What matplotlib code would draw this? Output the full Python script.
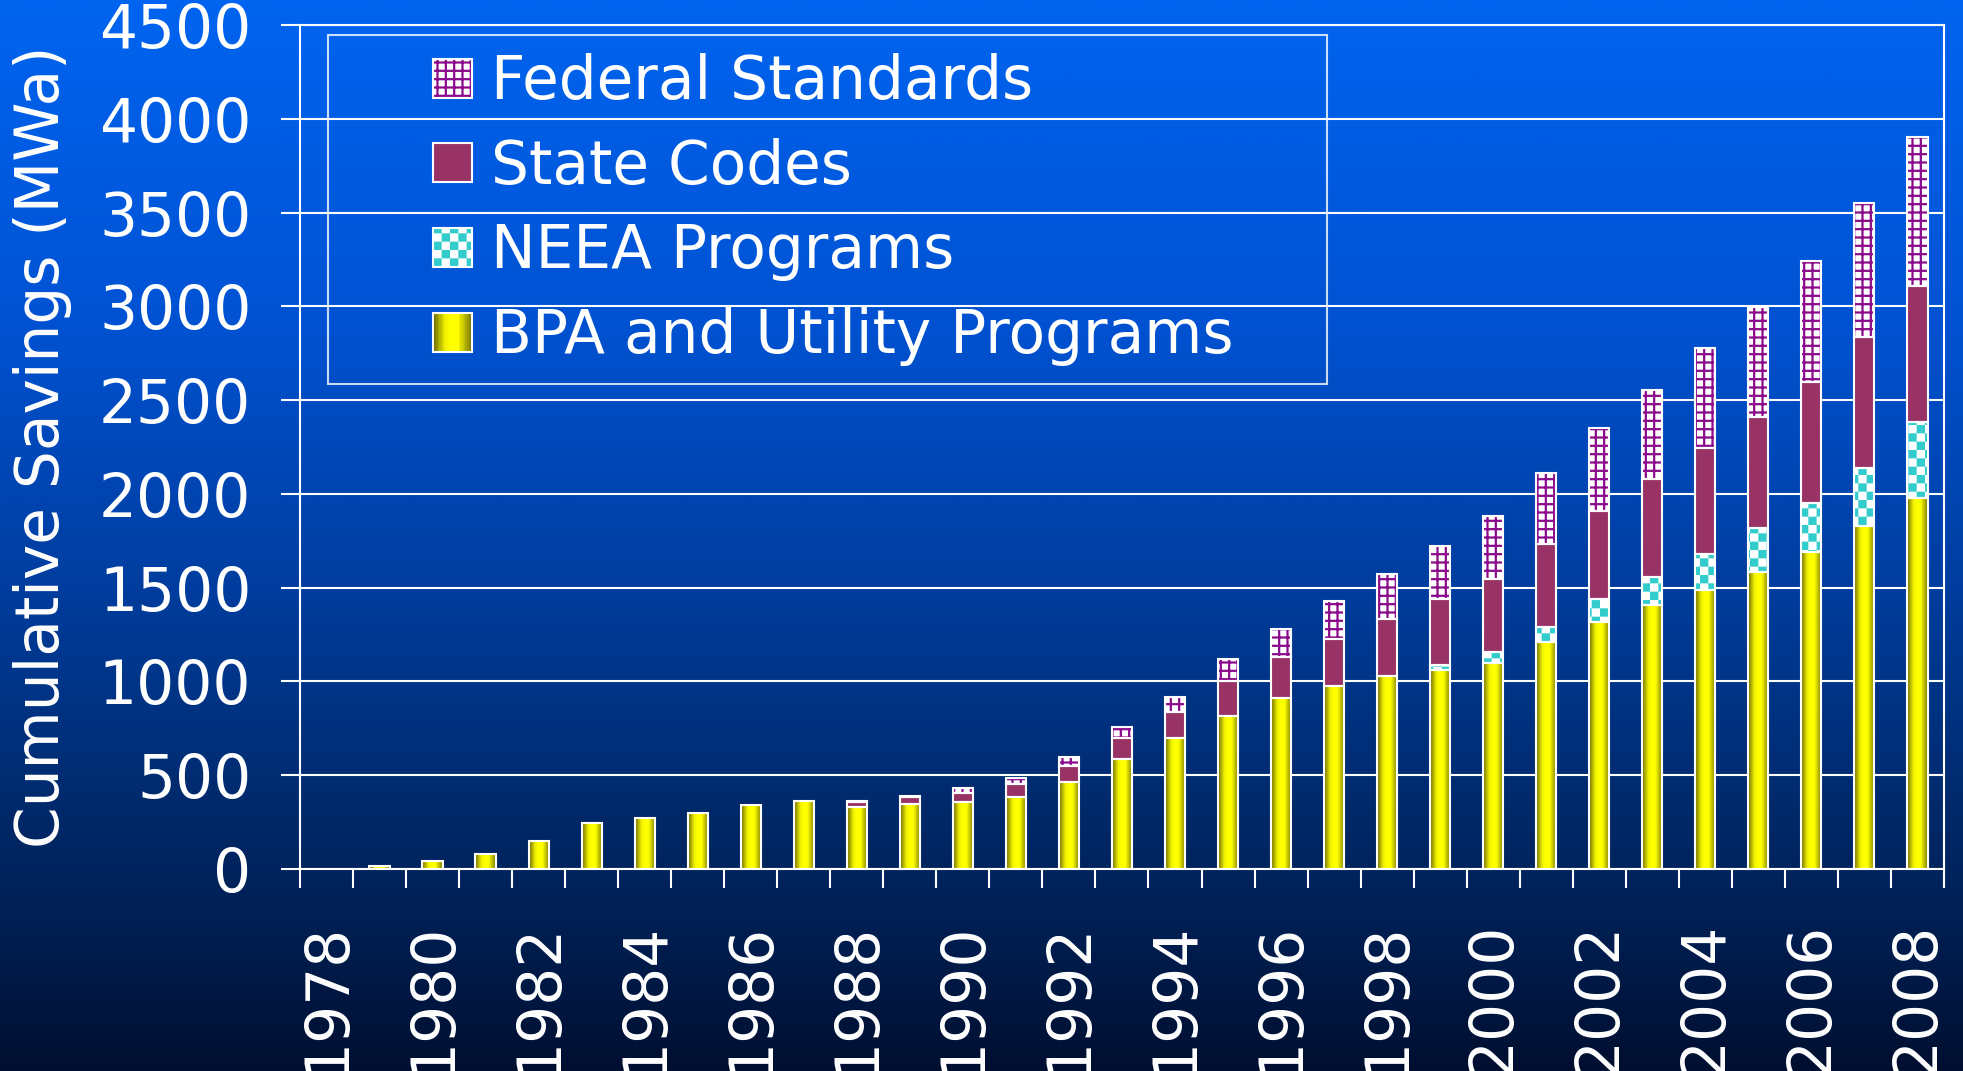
import warnings
warnings.filterwarnings('ignore')
import numpy as np
import matplotlib
matplotlib.use('Agg')
import matplotlib.pyplot as plt
import matplotlib.hatch as mhatch
from matplotlib.path import Path
from matplotlib.patches import Rectangle, Patch
from matplotlib.legend_handler import HandlerBase
from matplotlib.colors import LinearSegmentedColormap

# ---------------- data ----------------
years = list(range(1978, 2009))
bpa = [0, 15, 43, 80, 150, 245, 273, 300, 339, 360, 330, 345, 355, 386, 466, 588,
       698, 818, 913, 974, 1027, 1060, 1100, 1208, 1317, 1409, 1490, 1586, 1692, 1830, 1979]
neea = [0, 0, 0, 0, 0, 0, 0, 0, 0, 0, 0, 0, 0, 0, 0, 0,
        0, 0, 0, 0, 0, 26, 55, 81, 124, 150, 188, 234, 260, 308, 403]
state = [0, 0, 0, 0, 0, 0, 0, 0, 0, 0, 25, 40, 50, 66, 84, 110,
         138, 182, 216, 250, 305, 355, 390, 444, 467, 520, 564, 588, 647, 700, 724]
federal = [0, 0, 0, 0, 0, 0, 0, 0, 0, 0, 5, 5, 25, 34, 45, 57,
           82, 120, 150, 203, 241, 282, 337, 378, 445, 476, 538, 589, 642, 711, 796]
legend_labels = ['Federal Standards', 'State Codes', 'NEEA Programs', 'BPA and Utility Programs']
ytick_values = list(range(0, 4501, 500))
xtick_years = [y for y in years if y % 2 == 0]
ylabel = 'Cumulative Savings (MWa)'

# ---------------- style ----------------
plt.rcParams['hatch.linewidth'] = 1.6
plt.rcParams['font.family'] = ['DejaVu Sans']
FS = 43
WHITE = 'white'
MAROON = '#993366'
PURPLE = '#8B0A8B'
CYAN = '#33CCCC'
EDGE_LW = 1.5


# custom checkerboard hatch ('c')
class CheckerHatch(mhatch.HatchPatternBase):
    def __init__(self, hatch, density):
        self.n = 2 * hatch.count('c') * int(density)
        self.num_vertices = (self.n * self.n // 2) * 5 if self.n else 0

    def set_vertices_and_codes(self, vertices, codes):
        s = 1.0 / self.n
        ins = 0.011
        vs = []
        for i in range(self.n):
            for j in range(self.n):
                if (i + j) % 2 == 0:
                    a, b = i * s + ins, j * s + ins
                    c, d = (i + 1) * s - ins, (j + 1) * s - ins
                    vs.append([[a, b], [c, b], [c, d], [a, d], [a, b]])
        vertices[:] = np.array(vs).reshape(-1, 2)
        codes[:] = np.tile([Path.MOVETO, Path.LINETO, Path.LINETO, Path.LINETO,
                            Path.CLOSEPOLY], len(vs))


mhatch._hatch_types.append(CheckerHatch)

yellow_cmap = LinearSegmentedColormap.from_list(
    'yel', [(0, '#6E6E00'), (0.3, '#F0F000'), (0.45, '#FFFF00'), (0.65, '#FFFF00'),
            (1.0, '#7A7A00')])
bg_cmap = LinearSegmentedColormap.from_list(
    'bg', [(0, '#0064F0'), (0.3, '#0052D2'), (0.55, '#003D9E'), (0.75, '#002A6C'),
           (0.9, '#001B4A'), (1.0, '#000F30')])

fig = plt.figure(figsize=(19.63, 10.71), dpi=100)
bg = fig.add_axes([0, 0, 1, 1], zorder=-10)
bg.imshow(np.linspace(0, 1, 512).reshape(-1, 1), cmap=bg_cmap, aspect='auto',
          extent=[0, 1, 0, 1], origin='upper', interpolation='bilinear')
bg.axis('off')

ax = fig.add_axes([0.1528, 0.1886, 0.8375, 0.7881])
ax.set_facecolor('none')

x = np.arange(len(years))
width = 0.38
bpa_a = np.array(bpa, float)
neea_a = np.array(neea, float)
state_a = np.array(state, float)
fed_a = np.array(federal, float)

b_neea = bpa_a
b_state = bpa_a + neea_a
b_fed = bpa_a + neea_a + state_a

bars_bpa = ax.bar(x, bpa_a, width, color='#FFFF00', lw=0, zorder=2)
ax.bar(x, neea_a, width, bottom=b_neea, color='white', edgecolor=CYAN, hatch='c', lw=0, zorder=2)
ax.bar(x, state_a, width, bottom=b_state, color=MAROON, lw=0, zorder=2)
ax.bar(x, fed_a, width, bottom=b_fed, color='white', edgecolor=PURPLE, hatch='++', lw=0, zorder=2)

grad = np.linspace(0, 1, 64).reshape(1, -1)
for r in bars_bpa:
    if r.get_height() > 0:
        ax.imshow(grad, cmap=yellow_cmap, aspect='auto', interpolation='bilinear',
                  extent=[r.get_x(), r.get_x() + r.get_width(), r.get_y(), r.get_y() + r.get_height()],
                  zorder=2.1)

for vals, bot in [(bpa_a, np.zeros_like(bpa_a)), (neea_a, b_neea), (state_a, b_state), (fed_a, b_fed)]:
    m = vals > 0
    ax.bar(x[m], vals[m], width, bottom=bot[m], facecolor='none', edgecolor=WHITE,
           lw=EDGE_LW, zorder=3)

ax.set_xlim(-0.5, len(years) - 0.5)
ax.set_ylim(0, 4500)

ax.set_axisbelow(True)
ax.yaxis.grid(True, color=WHITE, lw=1.5)
for sp in ax.spines.values():
    sp.set_color(WHITE)
    sp.set_linewidth(1.5)

ax.set_yticks(ytick_values)
ax.set_yticklabels([str(v) for v in ytick_values])
ax.tick_params(axis='y', direction='out', length=14, width=1.5, color=WHITE,
               labelcolor=WHITE, labelsize=FS, pad=21)

ax.set_xticks([years.index(y) for y in xtick_years])
ax.set_xticklabels([str(y) for y in xtick_years], rotation=90)
ax.set_xticks(np.arange(-0.5, len(years), 1.0), minor=True)
ax.tick_params(axis='x', which='major', length=0, labelcolor=WHITE, labelsize=FS, pad=38)
ax.tick_params(axis='x', which='minor', direction='out', length=14, width=1.5, color=WHITE)

ax.set_ylabel(ylabel, fontsize=FS, color=WHITE)
ax.yaxis.set_label_coords(-0.1387, 0.5)

# ---------------- legend ----------------
SQ = 28  # points


class SwatchHandler(HandlerBase):
    def __init__(self, kind):
        super().__init__()
        self.kind = kind

    def create_artists(self, legend, orig_handle, xdescent, ydescent, width, height,
                       fontsize, trans):
        x0 = -xdescent + width - SQ
        y0 = -ydescent + (height - SQ) / 2
        arts = []
        if self.kind == 'fed':
            arts.append(Rectangle((x0, y0), SQ, SQ, facecolor='white', edgecolor=PURPLE,
                                  hatch='++', lw=0, transform=trans))
        elif self.kind == 'state':
            arts.append(Rectangle((x0, y0), SQ, SQ, facecolor=MAROON, lw=0, transform=trans))
        elif self.kind == 'neea':
            arts.append(Rectangle((x0, y0), SQ, SQ, facecolor='white', edgecolor=CYAN,
                                  hatch='c', lw=0, transform=trans))
        else:
            n = 24
            for i in range(n):
                arts.append(Rectangle((x0 + i * SQ / n, y0), SQ / n * 1.08, SQ,
                                      facecolor=yellow_cmap(i / (n - 1)), lw=0,
                                      transform=trans))
        arts.append(Rectangle((x0, y0), SQ, SQ, facecolor='none', edgecolor=WHITE,
                              lw=EDGE_LW, transform=trans))
        return arts


kinds = ['fed', 'state', 'neea', 'bpa']
proxies = [Patch(facecolor='none') for _ in kinds]
hmap = {p: SwatchHandler(k) for p, k in zip(proxies, kinds)}
leg = ax.legend(proxies, legend_labels, handler_map=hmap, loc='upper left',
                bbox_to_anchor=(0.017, 0.5, 0.6077, 0.488), mode='expand',
                borderaxespad=0, fontsize=FS, labelcolor=WHITE, frameon=True,
                fancybox=False, borderpad=0.3, labelspacing=0.43,
                handlelength=2.11, handleheight=0.7, handletextpad=0.32)
fr = leg.get_frame()
fr.set_facecolor('none')
fr.set_edgecolor(WHITE)
fr.set_linewidth(1.5)

fig.savefig('out.png', dpi=100)
